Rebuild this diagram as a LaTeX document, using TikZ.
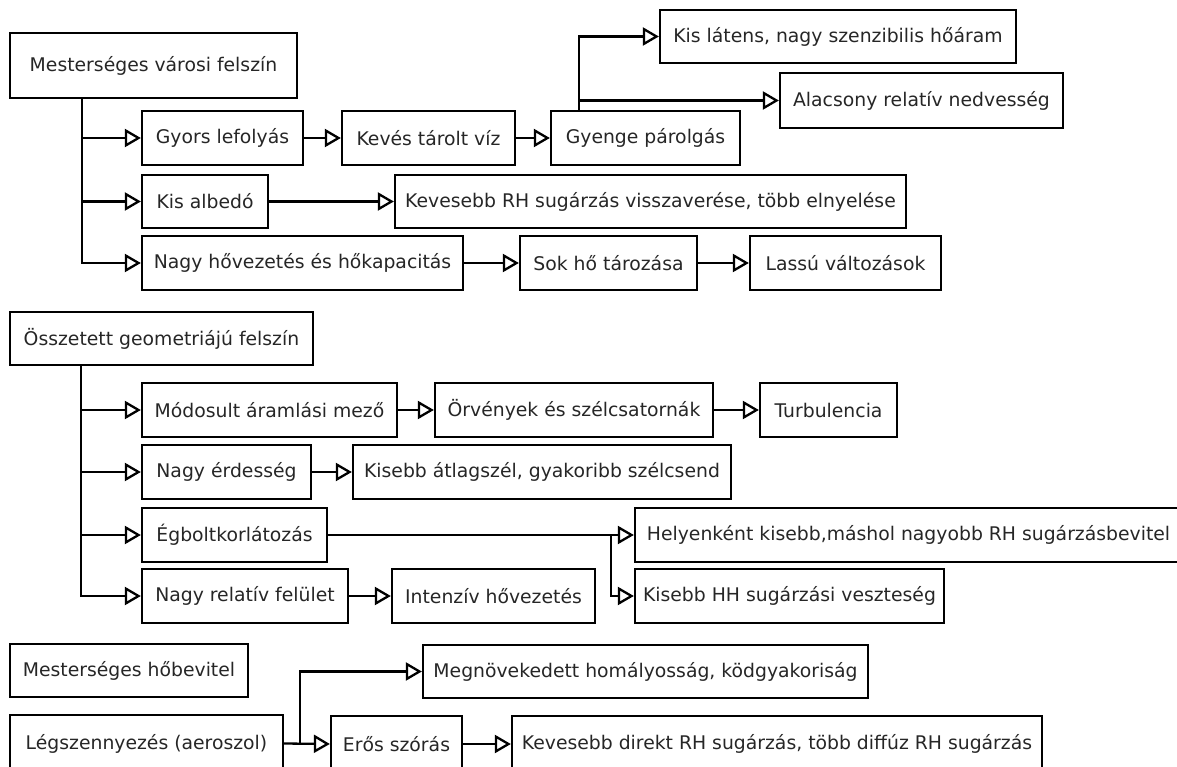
\documentclass[tikz,border=0pt]{standalone}
\usepackage{fontspec}
\setmainfont{DejaVu Sans}
\usetikzlibrary{arrows.meta,calc}
\newcommand\mybox[6]{%
  \node[box,minimum width={(#4-#2)*1pt},minimum height={(#5-#3)*1pt}] (#1) at ({(#2+#4)/2},{(#3+#5)/2}) {#6};}
\begin{document}
\begin{tikzpicture}[x=1pt,y=-1pt,
  box/.style={draw=black,line width=2.3pt,inner sep=0pt,font=\fontsize{18.8}{22}\selectfont,text=black!85},
  arr/.style={line width=2.3pt,-{Triangle[open,length=16pt,width=18pt]}},
  ln/.style={line width=2.3pt}]
\useasboundingbox (0,0) rectangle (1177,767);
\mybox{A}{10}{33}{297}{98}{Mesterséges városi felszín}
\mybox{gy}{142}{111}{303}{165}{Gyors lefolyás}
\mybox{kv}{342}{111}{515}{165}{Kevés tárolt víz}
\mybox{gp}{551}{111}{740}{165}{Gyenge párolgás}
\mybox{kl}{660}{10}{1016}{63}{Kis látens, nagy szenzibilis hőáram}
\mybox{al}{780}{73}{1063}{128}{Alacsony relatív nedvesség}
\mybox{ka}{142}{175}{268}{228}{Kis albedó}
\mybox{kr}{395}{175}{906}{228}{Kevesebb RH sugárzás visszaverése, több elnyelése}
\mybox{nh}{142}{236}{463}{290}{Nagy hővezetés és hőkapacitás}
\mybox{sh}{520}{236}{697}{290}{Sok hő tározása}
\mybox{lv}{750}{236}{941}{290}{Lassú változások}
\mybox{B}{10}{312}{313}{365}{Összetett geometriájú felszín}
\mybox{mo}{142}{383}{397}{437}{Módosult áramlási mező}
\mybox{or}{435}{383}{713}{437}{Örvények és szélcsatornák}
\mybox{tu}{760}{383}{897}{437}{Turbulencia}
\mybox{ne}{142}{445}{311}{499}{Nagy érdesség}
\mybox{kat}{353}{445}{731}{499}{Kisebb átlagszél, gyakoribb szélcsend}
\mybox{eg}{142}{508}{327}{562}{Égboltkorlátozás}
\mybox{he}{635}{508}{1182}{562}{Helyenként kisebb,máshol nagyobb RH sugárzásbevitel}
\mybox{kh}{635}{569}{944}{623}{Kisebb HH sugárzási veszteség}
\mybox{nr}{142}{569}{348}{623}{Nagy relatív felület}
\mybox{ih}{392}{569}{595}{623}{Intenzív hővezetés}
\mybox{mhb}{10}{644}{248}{697}{Mesterséges hőbevitel}
\mybox{ls}{10}{715}{283}{772}{Légszennyezés (aeroszol)}
\mybox{mh}{423}{645}{868}{698}{Megnövekedett homályosság, ködgyakoriság}
\mybox{es}{331}{716}{462}{772}{Erős szórás}
\mybox{kd}{512}{716}{1042}{772}{Kevesebb direkt RH sugárzás, több diffúz RH sugárzás}
% section 1
\coordinate (tA) at ($(A.south west)+(73,0)$);
\draw[arr] (tA) |- (gy.west);
\draw[arr] (tA) |- (ka.west);
\draw[arr] (tA) |- (nh.west);
\draw[arr] (gy) -- (kv);
\draw[arr] (kv) -- (gp);
\coordinate (tG) at ($(gp.north west)+(29,0)$);
\draw[arr] (tG) |- (kl.west);
\draw[arr] (tG) |- (al.west);
\draw[arr] (ka) -- (kr);
\draw[arr] (nh) -- (sh);
\draw[arr] (sh) -- (lv);
% section 2
\coordinate (tB) at ($(B.south west)+(72,0)$);
\draw[arr] (tB) |- (mo.west);
\draw[arr] (tB) |- (ne.west);
\draw[arr] (tB) |- (eg.west);
\draw[arr] (tB) |- (nr.west);
\draw[arr] (mo) -- (or);
\draw[arr] (or) -- (tu);
\draw[arr] (ne) -- (kat);
\draw[arr] (eg.east) -- (he.west);
\coordinate (tE) at ($(he.west)+(-23,0)$);
\draw[arr] (tE) |- (kh.west);
\draw[arr] (nr) -- (ih);
% section 3
\draw[arr] (ls.east) -- (es.west);
\coordinate (tL) at ($(ls.east)+(16,0)$);
\draw[arr] (tL) |- (mh.west);
\draw[arr] (es) -- (kd);
\end{tikzpicture}
\end{document}
